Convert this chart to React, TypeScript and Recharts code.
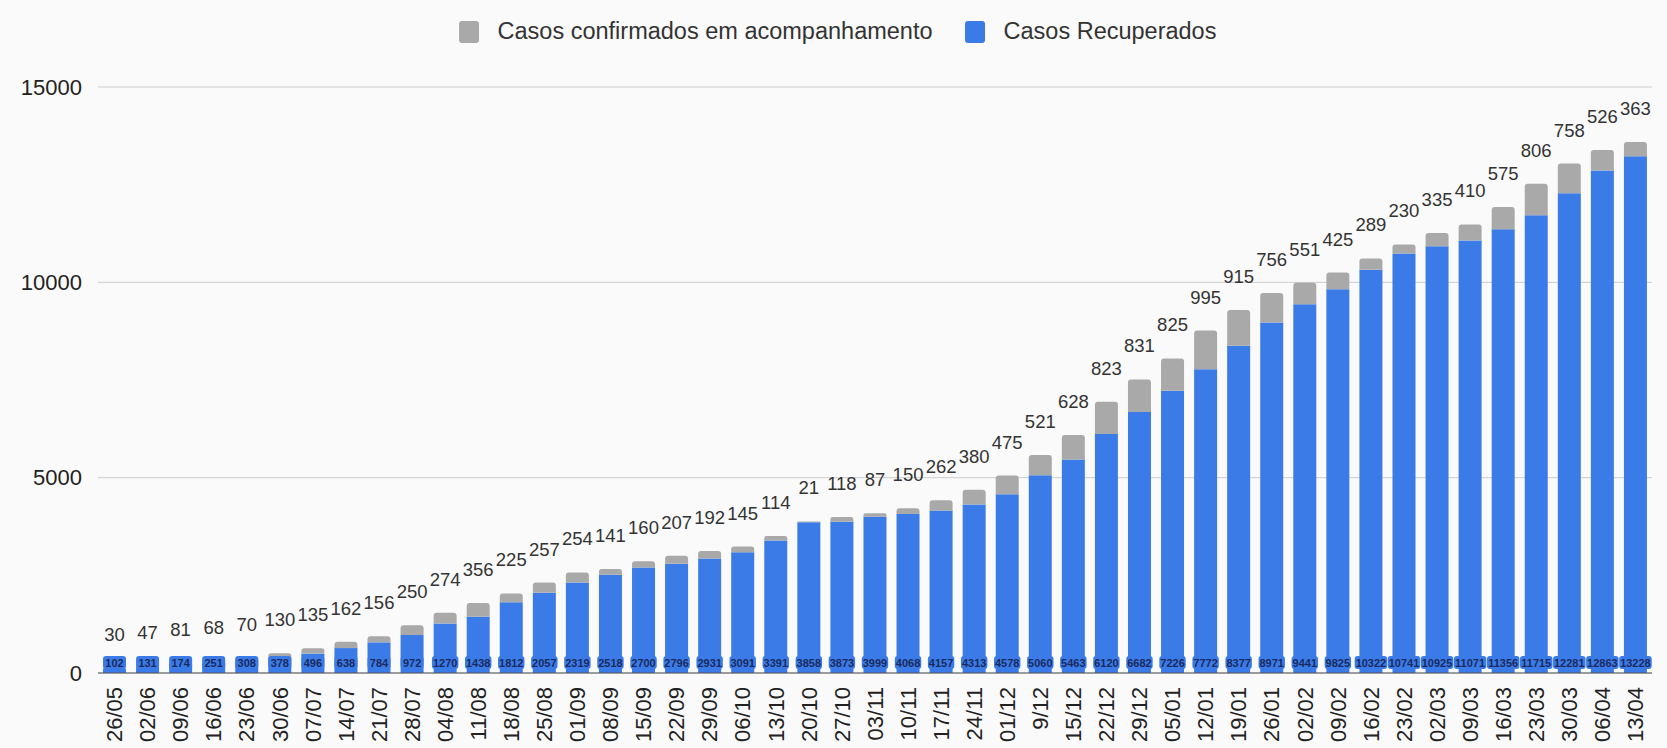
import { BarChart, Bar, XAxis, YAxis, CartesianGrid, Legend, LabelList } from 'recharts';

const dates = [
  '26/05', '02/06', '09/06', '16/06', '23/06', '30/06', '07/07', '14/07', '21/07', '28/07',
  '04/08', '11/08', '18/08', '25/08', '01/09', '08/09', '15/09', '22/09', '29/09', '06/10',
  '13/10', '20/10', '27/10', '03/11', '10/11', '17/11', '24/11', '01/12', '9/12', '15/12',
  '22/12', '29/12', '05/01', '12/01', '19/01', '26/01', '02/02', '09/02', '16/02', '23/02',
  '02/03', '09/03', '16/03', '23/03', '30/03', '06/04', '13/04',
];

const recuperados = [
  102, 131, 174, 251, 308, 378, 496, 638, 784, 972,
  1270, 1438, 1812, 2057, 2319, 2518, 2700, 2796, 2931, 3091,
  3391, 3858, 3873, 3999, 4068, 4157, 4313, 4578, 5060, 5463,
  6120, 6682, 7226, 7772, 8377, 8971, 9441, 9825, 10322, 10741,
  10925, 11071, 11356, 11715, 12281, 12863, 13228,
];

const acompanhamento = [
  30, 47, 81, 68, 70, 130, 135, 162, 156, 250,
  274, 356, 225, 257, 254, 141, 160, 207, 192, 145,
  114, 21, 118, 87, 150, 262, 380, 475, 521, 628,
  823, 831, 825, 995, 915, 756, 551, 425, 289, 230,
  335, 410, 575, 806, 758, 526, 363,
];

const yTicks = [0, 5000, 10000, 15000];

const BLUE = '#3a7be8';
const GRAY = '#a9a9a9';
const FONT = '"Liberation Sans", Arial, sans-serif';

const data = dates.map((d, i) => ({
  date: d,
  recuperados: recuperados[i],
  acompanhamento: acompanhamento[i],
}));

function DateTick({ x, y, payload }: any) {
  return (
    <g transform={`translate(${x},${y + 6})`}>
      <text
        transform="rotate(-90)"
        textAnchor="end"
        dy="0.35em"
        fontSize={22}
        fill="#222"
        fontFamily={FONT}
      >
        {payload.value}
      </text>
    </g>
  );
}

// blue value sits in a blue box just above the baseline
function BlueLabel({ x, y, width, height, value }: any) {
  const base = y + height;
  const tw = String(value).length * 6.1 + 2;
  const w = Math.max(width, tw);
  const cx = x + width / 2;
  return (
    <g>
      <rect x={cx - w / 2} y={base - 17} width={w} height={13} rx={3} fill={BLUE} />
      <text
        x={cx}
        y={base - 10.5}
        textAnchor="middle"
        dominantBaseline="central"
        fontSize={11}
        fontWeight="bold"
        fill="#1a2a5e"
        fontFamily={FONT}
      >
        {value}
      </text>
    </g>
  );
}

function GrayLabel({ x, y, width, value }: any) {
  return (
    <text
      x={x + width / 2}
      y={y - 27}
      textAnchor="middle"
      fontSize={18.5}
      fill="#333"
      fontFamily={FONT}
    >
      {value}
    </text>
  );
}

function LegendBox({ payload }: any) {
  const items = [...(payload || [])].sort((a: any) => (a.dataKey === 'acompanhamento' ? -1 : 1));
  return (
    <div style={{ display: 'flex', justifyContent: 'center', alignItems: 'center', fontFamily: FONT }}>
      {items.map((it: any, i: number) => (
        <div
          key={it.dataKey}
          style={{ display: 'flex', alignItems: 'center', marginRight: i < items.length - 1 ? 32 : 0 }}
        >
          <span
            style={{
              display: 'inline-block',
              width: 20,
              height: 22,
              borderRadius: 3,
              background: it.color,
              marginRight: 19,
            }}
          />
          <span style={{ fontSize: 23.5, color: '#333' }}>{it.value}</span>
        </div>
      ))}
    </div>
  );
}

export default function App() {
  return (
    <div style={{ position: 'absolute', left: 0, top: 0, width: 1667, height: 748, background: '#fafafa' }}>
      <BarChart
        width={1667}
        height={748}
        data={data}
        margin={{ top: 87, right: 15, bottom: 0, left: 0 }}
      >
        <CartesianGrid horizontal vertical={false} stroke="#cccccc" />
        <XAxis
          dataKey="date"
          interval={0}
          height={75}
          tickLine={false}
          axisLine={{ stroke: '#555' }}
          tick={<DateTick />}
        />
        <YAxis
          width={98}
          domain={[0, 15000]}
          ticks={yTicks}
          axisLine={false}
          tickLine={false}
          tickMargin={10}
          tick={{ fontSize: 22, fill: '#222', fontFamily: FONT }}
        />
        <Legend
          verticalAlign="middle"
          align="center"
          wrapperStyle={{ top: 18, left: 4, width: 1667 }}
          content={<LegendBox />}
        />
        <Bar
          dataKey="recuperados"
          name="Casos Recuperados"
          stackId="a"
          fill={BLUE}
          barSize={23}
          isAnimationActive={false}
        >
          <LabelList dataKey="recuperados" content={<BlueLabel />} />
        </Bar>
        <Bar
          dataKey="acompanhamento"
          name="Casos confirmados em acompanhamento"
          stackId="a"
          fill={GRAY}
          barSize={23}
          radius={[3, 3, 0, 0]}
          isAnimationActive={false}
        >
          <LabelList dataKey="acompanhamento" content={<GrayLabel />} />
        </Bar>
      </BarChart>
    </div>
  );
}
